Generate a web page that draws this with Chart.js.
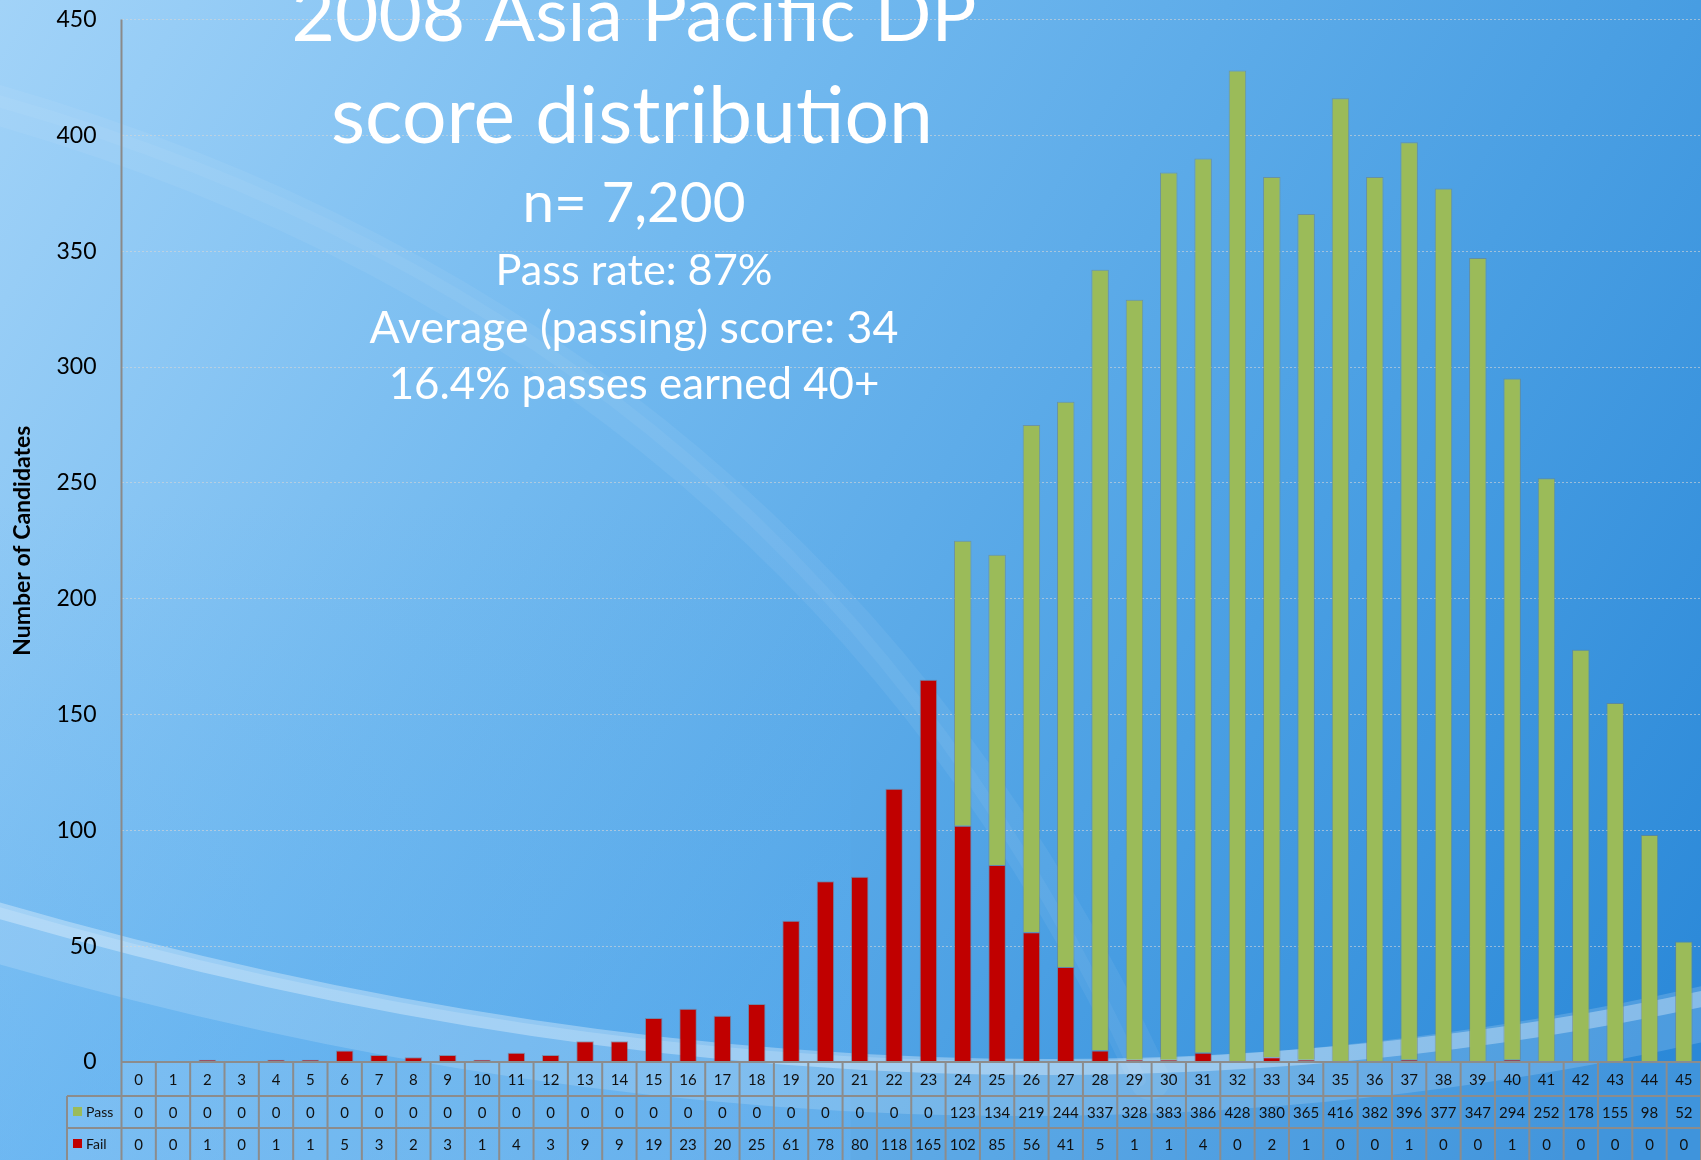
<!DOCTYPE html>
<html>
<head>
<meta charset="utf-8">
<script src="https://cdn.jsdelivr.net/npm/chart.js@4"></script>
<style>
  html, body { margin: 0; padding: 0; background: #5aacec; }
  canvas { display: block; }
</style>
</head>
<body>
<canvas id="chart" width="1701" height="1160"></canvas>
<script>
const scores = ['0','1','2','3','4','5','6','7','8','9','10','11','12','13','14','15','16','17','18','19','20','21','22','23','24','25','26','27','28','29','30','31','32','33','34','35','36','37','38','39','40','41','42','43','44','45'];
const passCounts = [0,0,0,0,0,0,0,0,0,0,0,0,0,0,0,0,0,0,0,0,0,0,0,0,123,134,219,244,337,328,383,386,428,380,365,416,382,396,377,347,294,252,178,155,98,52];
const failCounts = [0,0,1,0,1,1,5,3,2,3,1,4,3,9,9,19,23,20,25,61,78,80,118,165,102,85,56,41,5,1,1,4,0,2,1,0,0,1,0,0,1,0,0,0,0,0];
const yTicks = [0,50,100,150,200,250,300,350,400,450];

const titleLines = ['2008 Asia Pacific DP', 'score distribution'];
const statLines = ['n= 7,200', 'Pass rate: 87%', 'Average (passing) score: 34', '16.4% passes earned 40+'];

const passColor = '#9BBB59';
const failColor = '#C00000';
const fontFam = 'Lato, "Open Sans", sans-serif';

// text drawn so its width fits the given width
function drawFitted(c, text, cx, baseline, width) {
    c.font = '100px ' + fontFam;
    let w = c.measureText(text).width;
    let size = 100 * width / w;
    c.font = size + 'px ' + fontFam;
    c.textAlign = 'center';
    c.textBaseline = 'alphabetic';
    c.fillText(text, cx, baseline);
}

const backgroundPlugin = {
    id: 'background',
    beforeDraw(chart) {
        let c = chart.ctx;
        let W = chart.width, H = chart.height;
        c.save();
        let g = c.createLinearGradient(0, 0, W, H * 0.9);
        g.addColorStop(0, '#a2d3f8');
        g.addColorStop(0.35, '#72b9ef');
        g.addColorStop(0.7, '#4a9fe3');
        g.addColorStop(1, '#2a88d8');
        c.fillStyle = g;
        c.fillRect(0, 0, W, H);

        let g2 = c.createLinearGradient(0, 500, 0, H);
        g2.addColorStop(0, 'rgba(90,175,240,0)');
        g2.addColorStop(1, 'rgba(90,175,245,0.35)');
        c.fillStyle = g2;
        c.fillRect(0, 500, W * 0.5, H - 500);

        // faint upper swoosh
        c.lineCap = 'round';
        c.strokeStyle = 'rgba(255,255,255,0.06)';
        c.lineWidth = 40;
        c.beginPath();
        c.moveTo(-20, 100);
        c.quadraticCurveTo(800, 330, 1150, 1080);
        c.stroke();
        c.strokeStyle = 'rgba(255,255,255,0.05)';
        c.lineWidth = 12;
        c.beginPath();
        c.moveTo(-20, 96);
        c.quadraticCurveTo(800, 320, 1140, 1080);
        c.stroke();

        // bright lower swoosh
        c.strokeStyle = 'rgba(255,255,255,0.16)';
        c.lineWidth = 55;
        c.beginPath();
        c.moveTo(-20, 930);
        c.quadraticCurveTo(900, 1200, 1720, 1010);
        c.stroke();
        c.strokeStyle = 'rgba(255,255,255,0.32)';
        c.lineWidth = 16;
        c.beginPath();
        c.moveTo(-20, 905);
        c.quadraticCurveTo(900, 1175, 1720, 995);
        c.stroke();
        c.restore();
    }
};

const textPlugin = {
    id: 'overlayText',
    beforeDatasetsDraw(chart) {
        let c = chart.ctx;
        c.save();
        c.fillStyle = '#ffffff';
        drawFitted(c, titleLines[0], 634, 41, 685);
        drawFitted(c, titleLines[1], 632, 143, 602);
        drawFitted(c, statLines[0], 634, 222, 223);
        drawFitted(c, statLines[1], 634, 285, 277);
        drawFitted(c, statLines[2], 634, 343, 529);
        drawFitted(c, statLines[3], 634, 399, 491);
        c.restore();
    }
};

const tablePlugin = {
    id: 'dataTable',
    afterDraw(chart) {
        let c = chart.ctx;
        let xs = chart.scales.x;
        let area = chart.chartArea;
        let n = scores.length;
        let cw = (area.right - area.left) / n;
        let rowTop = [area.bottom, 1096, 1128];
        let rowBot = [1096, 1128, 1160];
        let legLeft = 67;

        c.save();
        // axis line
        c.strokeStyle = '#8a8a8a';
        c.lineWidth = 2;
        c.beginPath();
        c.moveTo(area.left, area.top);
        c.lineTo(area.left, area.bottom);
        c.stroke();

        // cell tint
        c.fillStyle = 'rgba(255,255,255,0.10)';
        c.fillRect(area.left, rowTop[0], area.right - area.left, 1160 - rowTop[0]);
        c.fillRect(legLeft, rowTop[1], area.left - legLeft, 1160 - rowTop[1]);

        // grid of the table
        c.strokeStyle = '#8c8c8c';
        c.lineWidth = 2;
        c.beginPath();
        c.moveTo(area.left, rowTop[0]);
        c.lineTo(area.right, rowTop[0]);
        for (let r = 1; r < 3; r++) {
            c.moveTo(legLeft, rowTop[r]);
            c.lineTo(area.right, rowTop[r]);
        }
        c.moveTo(legLeft, rowTop[1]);
        c.lineTo(legLeft, 1160);
        for (let i = 0; i <= n; i++) {
            let x = area.left + i * cw;
            c.moveTo(x, rowTop[0]);
            c.lineTo(x, 1160);
        }
        c.stroke();

        // values
        c.fillStyle = '#111';
        c.font = '15px ' + fontFam;
        c.textAlign = 'center';
        c.textBaseline = 'middle';
        for (let i = 0; i < n; i++) {
            let x = xs.getPixelForValue(i);
            c.fillText(scores[i], x, (rowTop[0] + rowBot[0]) / 2 + 1);
            c.fillText(String(passCounts[i]), x, (rowTop[1] + rowBot[1]) / 2 + 1);
            c.fillText(String(failCounts[i]), x, (rowTop[2] + rowBot[2]) / 2 + 1);
        }

        // legend keys
        let keys = [['Pass', passColor], ['Fail', failColor]];
        c.textAlign = 'left';
        c.font = '14px ' + fontFam;
        for (let k = 0; k < 2; k++) {
            let cy = (rowTop[k + 1] + rowBot[k + 1]) / 2;
            c.fillStyle = keys[k][1];
            c.fillRect(73, cy - 5, 9, 9);
            c.fillStyle = '#111';
            c.fillText(keys[k][0], 86, cy);
        }
        c.restore();
    }
};

const ctx = document.getElementById('chart').getContext('2d');
const myChart = new Chart(ctx, {
    type: 'bar',
    data: {
        labels: scores,
        datasets: [{
            label: 'Fail',
            data: failCounts,
            backgroundColor: failColor,
            borderColor: 'rgba(120,110,120,0.55)',
            borderWidth: 1,
            stack: 'score'
        }, {
            label: 'Pass',
            data: passCounts,
            backgroundColor: passColor,
            borderColor: 'rgba(120,130,110,0.55)',
            borderWidth: 1,
            stack: 'score'
        }]
    },
    options: {
        responsive: false,
        animation: false,
        devicePixelRatio: 1,
        layout: { padding: { top: 19.5, bottom: 98, left: 0, right: 0 } },
        plugins: {
            legend: { display: false },
            tooltip: { enabled: false }
        },
        datasets: {
            bar: { categoryPercentage: 1, barPercentage: 0.51 }
        },
        scales: {
            x: {
                stacked: true,
                display: false
            },
            y: {
                stacked: true,
                min: 0,
                max: 450,
                afterBuildTicks(scale) {
                    scale.ticks = yTicks.map(v => ({ value: v }));
                },
                afterFit(scale) {
                    scale.width = 121.5;
                    scale.paddingTop = 0;
                    scale.paddingBottom = 0;
                },
                ticks: {
                    color: '#000',
                    padding: 25,
                    font: { family: fontFam, size: 23 }
                },
                grid: {
                    color: 'rgba(215,215,215,0.6)',
                    lineWidth: 1,
                    drawTicks: false
                },
                border: { display: false, dash: [2, 2] },
                title: {
                    display: true,
                    text: 'Number of Candidates',
                    color: '#000',
                    padding: { top: 9, bottom: 0 },
                    font: { family: fontFam, size: 23, weight: 'bold' }
                }
            }
        }
    },
    plugins: [backgroundPlugin, textPlugin, tablePlugin]
});
</script>
</body>
</html>
